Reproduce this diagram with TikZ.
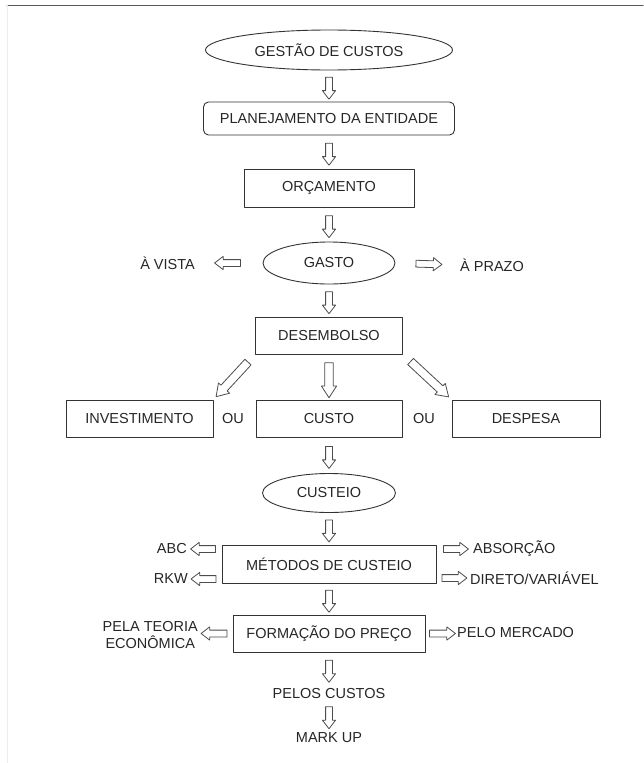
\documentclass[tikz,border=0pt]{standalone}
\usepackage{fontspec}
\setmainfont{Liberation Sans}
\usetikzlibrary{positioning,calc,shapes.geometric,shapes.arrows}

\begin{document}
\begin{tikzpicture}[x=1pt,y=-1pt,line cap=round,line join=round,
	font=\fontsize{14.5}{17}\selectfont,
	caixa/.style={draw=black!80,line width=0.9pt,minimum height=37pt,inner sep=0pt,text=black!85},
	oval/.style={ellipse,draw=black!80,line width=0.9pt,inner sep=0pt,text=black!85},
	rotulo/.style={inner sep=2pt,text=black!85},
	seta/.style={single arrow,draw=black!70,fill=white,line width=0.8pt,
		minimum height=22pt,inner xsep=0pt,inner ysep=3pt,single arrow head extend=3.2pt,
		single arrow tip angle=75,sloped,allow upside down},
	setalonga/.style={seta,minimum height=26pt},
	setagrande/.style={seta,inner ysep=3.8pt,single arrow head extend=3.4pt,single arrow tip angle=66}]
	
	% sizes
	\def\cx{329}   % main column
	\def\ry{418.5} % row of the three boxes
	
	\useasboundingbox (0,0) rectangle (643,763);
	
	% page frame
	\draw[black!65,line width=1pt] (7,5) -- (643,5);
	\draw[black!7,line width=1.5pt] (7.5,5) -- (7.5,763);
	
	% main column
	\node[oval,minimum width=247pt,minimum height=40pt] (gestao) at (\cx,50) {GESTÃO DE CUSTOS};
	\node[caixa,rounded corners=5pt,minimum width=251pt,minimum height=33pt] (planej) at (\cx,118.5) {PLANEJAMENTO DA ENTIDADE};
	\node[caixa,minimum width=170pt,minimum height=38pt] (orcam) at (\cx,188) {ORÇAMENTO};
	\node[oval,minimum width=132pt,minimum height=42pt] (gasto) at (\cx,263) {GASTO};
	\node[caixa,minimum width=147pt] (desemb) at (\cx,335.5) {DESEMBOLSO};
	
	\node[rotulo,anchor=east] (vista) at (197,263) {À VISTA};
	\node[rotulo,anchor=west] (prazo) at (458,265) {À PRAZO};
	
	% investimento / custo / despesa
	\node[caixa,minimum width=147pt] (invest) at (139.5,\ry) {INVESTIMENTO};
	\node[caixa,minimum width=146pt] (custo) at (\cx,\ry) {CUSTO};
	\node[caixa,minimum width=148pt] (despesa) at (526,\ry) {DESPESA};
	\node[rotulo] (ou1) at (233,\ry) {OU};
	\node[rotulo] (ou2) at (424,\ry) {OU};
	
	\node[oval,minimum width=133pt,minimum height=39pt] (custeio) at (\cx,493) {CUSTEIO};
	\node[caixa,minimum width=214pt,minimum height=38pt] (metodos) at (\cx,564) {MÉTODOS DE CUSTEIO};
	\node[rotulo,anchor=east] (abc) at (189,549) {ABC};
	\node[rotulo,anchor=east] (rkw) at (190,579) {RKW};
	\node[rotulo,anchor=west] (absorcao) at (471,549) {ABSORÇÃO};
	\node[rotulo,anchor=west] (direto) at (468,578) {DIRETO/VARIÁVEL};
	
	\node[caixa,minimum width=192pt] (formacao) at (\cx,633.5) {FORMAÇÃO DO PREÇO};
	\node[rotulo,anchor=east,align=center] (teoria) at (200,634.5) {PELA TEORIA\\ECONÔMICA};
	\node[rotulo,anchor=west] (mercado) at (455,632) {PELO MERCADO};
	\node[rotulo] (pelos) at (\cx,693) {PELOS CUSTOS};
	\node[rotulo] (markup) at (\cx,738) {MARK UP};
	
	% hollow arrows
	\path (gestao.south) -- node[seta]{} (planej.north);
	\path (planej.south) -- node[seta]{} (orcam.north);
	\path (orcam.south) -- node[seta]{} (gasto.north);
	\path (gasto.west) -- node[setalonga]{} (vista.east);
	\path (gasto.east) -- node[setalonga]{} (prazo.west);
	\path (gasto.south) -- node[seta]{} (desemb.north);
	
	\path (desemb.south west) -- node[setagrande,minimum height=47pt]{} (invest.north east);
	\path (desemb.south) -- node[setagrande,minimum height=35pt]{} (custo.north);
	\path (desemb.south east) -- node[setagrande,minimum height=52pt]{} (despesa.north west);
	
	\path (custo.south) -- node[seta]{} (custeio.north);
	\path (custeio.south) -- node[seta]{} (metodos.north);
	\path (metodos.west |- abc) -- node[setalonga,minimum height=25pt]{} (abc.east);
	\path (metodos.west |- rkw) -- node[setalonga,minimum height=25pt]{} (rkw.east);
	\path (metodos.east |- absorcao) -- node[setalonga,minimum height=25pt]{} (absorcao.west);
	\path (metodos.east |- direto) -- node[setalonga,minimum height=25pt]{} (direto.west);
	
	\path (metodos.south) -- node[seta]{} (formacao.north);
	\path (formacao.west) -- node[setalonga]{} (formacao.west -| teoria.east);
	\path (formacao.east) -- node[setalonga]{} (formacao.east -| mercado.west);
	\path (formacao.south) -- node[seta]{} (pelos.north);
	\path (pelos.south) -- node[seta]{} (markup.north);
	
\end{tikzpicture}
\end{document}
